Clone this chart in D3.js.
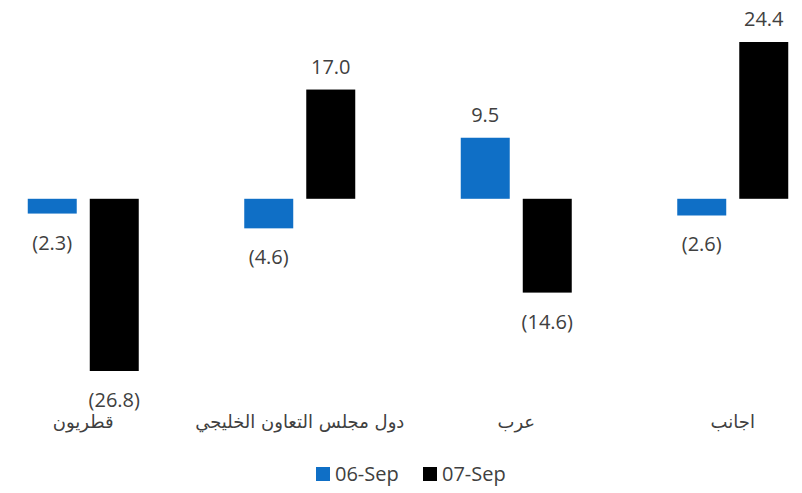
<!DOCTYPE html>
<html>
<head>
<meta charset="utf-8">
<script src="https://cdn.jsdelivr.net/npm/d3@7"></script>
<style>
  body { margin: 0; background: #fff; }
  svg { display: block; font-family: "Open Sans", "Noto Sans", sans-serif; }
</style>
</head>
<body>
<div id="chart"></div>
<script>
const categories = ['قطريون', 'دول مجلس التعاون الخليجي', 'عرب', 'اجانب'];
const seriesNames = ['06-Sep', '07-Sep'];
const sep06 = [-2.3, -4.6, 9.5, -2.6];
const sep07 = [-26.8, 17.0, -14.6, 24.4];
const colors = ['#0f6fc6', '#000000'];

const W = 802, H = 493;
const svg = d3.select('#chart').append('svg')
  .attr('width', W).attr('height', H);

const rows = categories.map((c, i) => ({ c, vals: [sep06[i], sep07[i]] }));

const x = d3.scaleBand().domain(categories).range([-25, 841]).padding(0);
const xs = d3.scaleBand().domain(seriesNames).range([0, 111]).paddingInner(0.21);
const y = d3.scaleLinear().domain([-26.8, 24.4]).range([371, 42]);

const fmt = v => v < 0 ? `(${d3.format('.1f')(-v)})` : d3.format('.1f')(v);

const g = svg.selectAll('g.cat').data(rows).enter().append('g')
  .attr('class', 'cat')
  .attr('transform', d => `translate(${x(d.c) + x.bandwidth() / 2 - 55.5},0)`);

const bars = g.selectAll('rect').data(d => d.vals.map((v, k) => ({ v, s: seriesNames[k], k })))
  .enter();

bars.append('rect')
  .attr('x', d => xs(d.s))
  .attr('width', xs.bandwidth())
  .attr('y', d => y(Math.max(0, d.v)))
  .attr('height', d => Math.abs(y(d.v) - y(0)))
  .attr('fill', d => colors[d.k]);

bars.append('text')
  .attr('x', d => xs(d.s) + xs.bandwidth() / 2)
  .attr('y', d => d.v >= 0 ? y(d.v) - 16 : y(d.v) + 36)
  .attr('text-anchor', 'middle')
  .attr('fill', '#404040')
  .style('font-size', '20px')
  .text(d => fmt(d.v));

svg.append('g').selectAll('text').data(categories).enter().append('text')
  .attr('x', d => x(d) + x.bandwidth() / 2)
  .attr('y', 428)
  .attr('text-anchor', 'middle')
  .attr('fill', '#404040')
  .style('font-family', '"DejaVu Sans", sans-serif')
  .style('font-size', '18px')
  .text(d => d);

const legend = svg.append('g').attr('transform', 'translate(316,467)');
const li = legend.selectAll('g').data(seriesNames).enter().append('g')
  .attr('transform', (d, i) => `translate(${i * 107},0)`);
li.append('rect').attr('width', 14).attr('height', 14).attr('fill', (d, i) => colors[i]);
li.append('text').attr('x', 19).attr('y', 14)
  .attr('fill', '#404040')
  .style('font-size', '20px')
  .text(d => d);
</script>
</body>
</html>
